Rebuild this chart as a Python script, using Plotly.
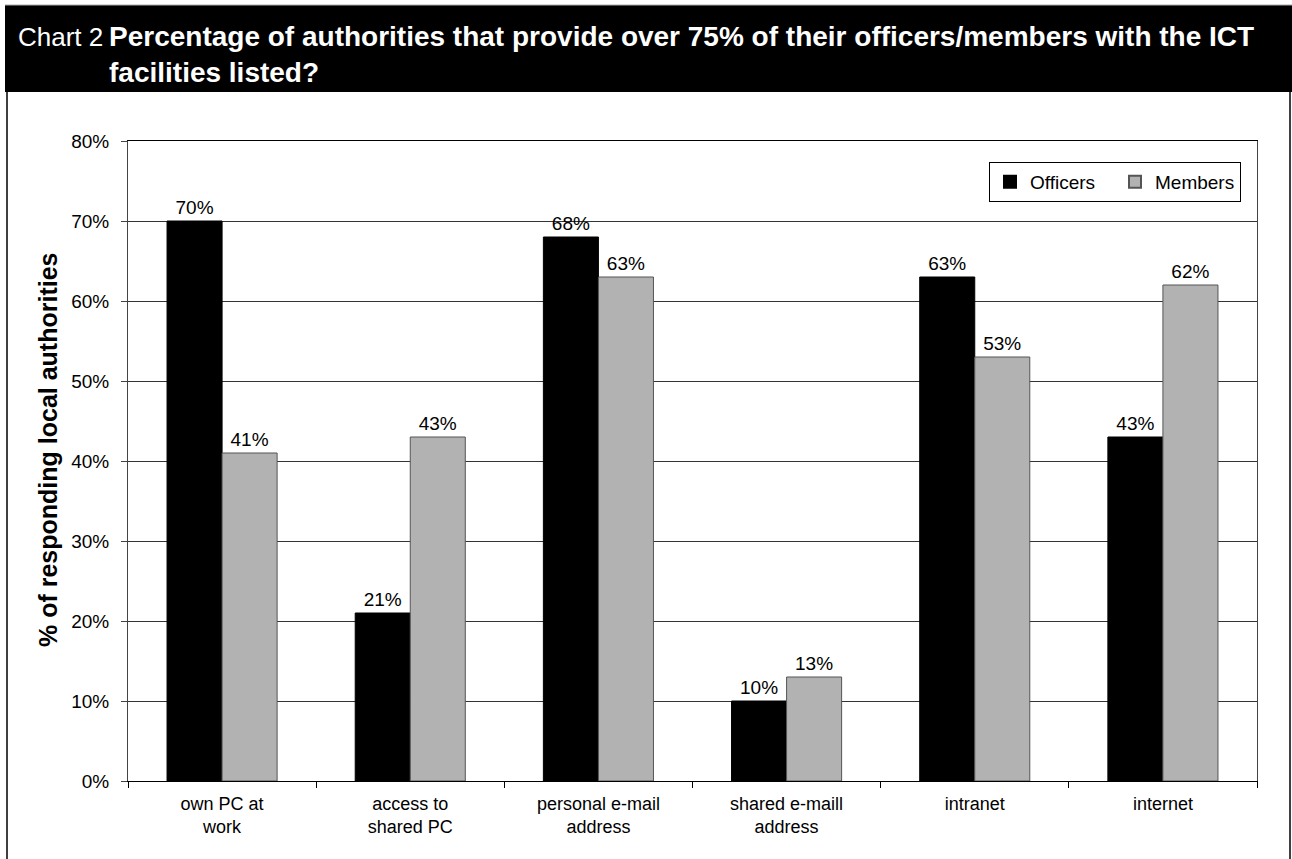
import plotly.graph_objects as go

# Survey results: share of authorities giving >75% of staff each ICT facility
categories = [
    "own PC at<br>work",
    "access to<br>shared PC",
    "personal e-mail<br>address",
    "shared e-maill<br>address",
    "intranet",
    "internet",
]
officers = [70, 21, 68, 10, 63, 43]
members = [41, 43, 63, 13, 53, 62]
y_ticks = [0, 10, 20, 30, 40, 50, 60, 70, 80]
y_tick_text = [f"{v}%" for v in y_ticks]

NARROW = "Liberation Sans Narrow, Arial Narrow, Liberation Sans, sans-serif"
WIDE = "Liberation Sans, Arial, sans-serif"

W, H = 1292, 859
L, R, T, B = 128, 35, 141, 78
PW, PH = W - L - R, H - T - B


def px(x):
    return (x - L) / PW


def py(y):
    return (H - B - y) / PH


fig = go.Figure()
fig.add_trace(go.Bar(
    name="Officers", x=categories, y=officers,
    marker=dict(color="#000000", line=dict(color="#000000", width=1)),
    text=[f"{v}%" for v in officers], textposition="outside",
    textfont=dict(family=NARROW, size=19, color="#000"), cliponaxis=False,
))
fig.add_trace(go.Bar(
    name="Members", x=categories, y=members,
    marker=dict(color="#b2b2b2", line=dict(color="#555555", width=1)),
    text=[f"{v}%" for v in members], textposition="outside",
    textfont=dict(family=NARROW, size=19, color="#000"), cliponaxis=False,
))

shapes = [
    # title banner
    dict(type="rect", xref="paper", yref="paper",
         x0=px(5), x1=px(1292), y0=py(92), y1=py(5),
         fillcolor="#000", line=dict(width=0), layer="below"),
    # thin rule above banner
    dict(type="line", xref="paper", yref="paper",
         x0=px(5), x1=px(1292), y0=py(5), y1=py(5),
         line=dict(color="#aaaaaa", width=1)),
    # outer frame sides
    dict(type="line", xref="paper", yref="paper",
         x0=px(7), x1=px(7), y0=py(92), y1=py(859),
         line=dict(color="#000", width=1.5)),
    dict(type="line", xref="paper", yref="paper",
         x0=px(1290), x1=px(1290), y0=py(92), y1=py(859),
         line=dict(color="#000", width=1.5)),
]

annotations = [
    dict(xref="paper", yref="paper", x=px(16), y=py(37),
         xanchor="left", yanchor="middle", showarrow=False,
         text="Chart 2", font=dict(family=NARROW, size=26, color="#fff")),
    dict(xref="paper", yref="paper", x=px(107), y=py(19),
         xanchor="left", yanchor="top", showarrow=False, align="left",
         text="<b>Percentage of authorities that provide over 75% of their "
              "officers/members with the ICT<br>facilities listed?</b>",
         font=dict(family=NARROW, size=28, color="#fff")),
    dict(xref="paper", yref="paper", x=px(48), y=py(450),
         xanchor="center", yanchor="middle", showarrow=False, textangle=-90,
         text="<b>% of responding local authorities</b>",
         font=dict(family=WIDE, size=25, color="#000")),
]

fig.update_layout(
    width=W, height=H,
    margin=dict(l=L, r=R, t=T, b=B, pad=0),
    paper_bgcolor="#fff", plot_bgcolor="#fff",
    barmode="group", bargap=0.415, bargroupgap=0,
    font=dict(family=NARROW, size=18, color="#000"),
    showlegend=True,
    legend=dict(
        orientation="h", x=px(1241), xanchor="right", y=py(162), yanchor="top",
        bordercolor="#000", borderwidth=1, bgcolor="#fff",
        font=dict(family=NARROW, size=19), itemsizing="constant",
        traceorder="normal", entrywidth=80, entrywidthmode="pixels",
    ),
    shapes=shapes, annotations=annotations,
)
fig.update_xaxes(
    type="category", showgrid=False, showline=True, linecolor="#000",
    linewidth=1, mirror=True, ticks="outside", tickson="boundaries",
    ticklen=6, tickcolor="#000", tickfont=dict(family=NARROW, size=18),
    ticklabelstandoff=6,
)
fig.update_yaxes(
    range=[0, 80], tickmode="array", tickvals=y_ticks, ticktext=y_tick_text,
    showgrid=True, gridcolor="#333", gridwidth=1,
    showline=True, linecolor="#444", linewidth=1, mirror=True,
    ticks="outside", ticklen=6, tickcolor="#444",
    tickfont=dict(family=NARROW, size=19), zeroline=False,
    ticklabelstandoff=8,
)

fig.write_html("out.html")
